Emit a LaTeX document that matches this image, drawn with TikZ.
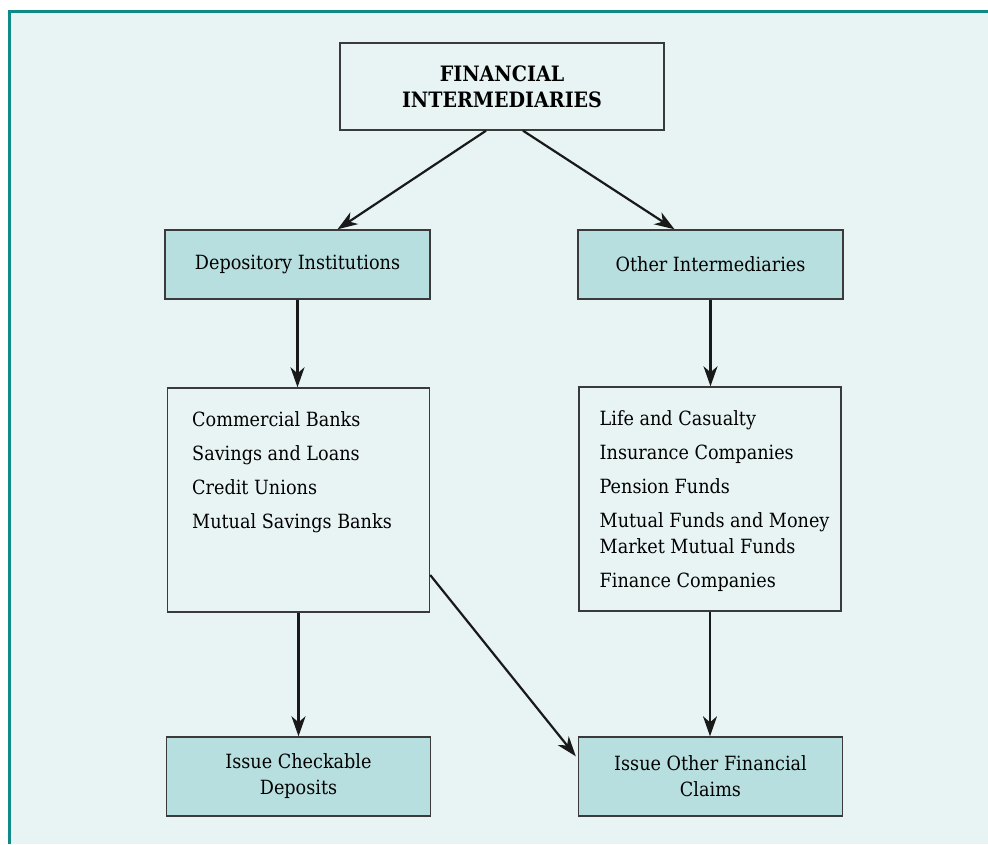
\documentclass[tikz,border=0pt]{standalone}
\usepackage{fontspec}
\setmainfont{DejaVu Serif Condensed}
\usetikzlibrary{positioning,arrows.meta,calc}
\definecolor{panelbg}{HTML}{E8F4F4}
\definecolor{boxteal}{HTML}{B8DFDF}
\definecolor{frameteal}{HTML}{108A88}
\definecolor{edgegray}{HTML}{3A3A3A}

\begin{document}
\begin{tikzpicture}[x=0.5pt, y=-0.5pt,
  box/.style={draw=edgegray, line width=0.7pt, inner sep=0pt, align=center,
    font=\fontsize{9.8}{13}\selectfont},
  headbox/.style={box, minimum width=162pt, minimum height=43.5pt,
    font=\fontsize{10.6}{13}\selectfont\bfseries},
  tealbox/.style={box, fill=boxteal, minimum width=132.5pt, minimum height=34.5pt},
  claimbox/.style={box, fill=boxteal, minimum width=132pt, minimum height=39.5pt},
  listbox/.style={box, minimum width=131pt, minimum height=112pt},
  listtext/.style={anchor=north west, inner sep=0pt, align=left,
    font=\fontsize{9.8}{13}\selectfont},
  arr/.style={-{Stealth[length=10pt,width=7pt,inset=3pt]}, line width=1.1pt, draw=black!90}]

% Panel
\useasboundingbox (0,0) rectangle (988,844);
\fill[panelbg] (10,12) rectangle (988,844);
\draw[frameteal, line width=1.4pt] (9.4,844) -- (9.4,11.6) -- (988,11.6);

% Boxes
\node[headbox] (fin) at (502,86.5) {FINANCIAL\\INTERMEDIARIES};
\node[tealbox] (dep) at (297.5,264.5) {Depository Institutions};
\node[tealbox] (oth) at (710.5,264.5) {Other Intermediaries};
\node[listbox] (banks) at (298.5,500) {};
\node[listbox] (funds) at (710,499) {};
\node[claimbox] (chk) at (298.5,776.5) {Issue Checkable\\Deposits};
\node[claimbox] (claims) at (710.5,776.5) {Issue Other Financial\\Claims};

% List texts
\node[listtext] (bankslist) at ($(banks.north west)+(25,24)$)
  {Commercial Banks\\[4pt] Savings and Loans\\[4pt] Credit Unions\\[4pt] Mutual Savings Banks};
\node[listtext] (fundslist) at ($(funds.north west)+(21,24)$)
  {Life and Casualty\\[4pt] Insurance Companies\\[4pt] Pension Funds\\[4pt]
   Mutual Funds and Money\\ Market Mutual Funds\\[4pt] Finance Companies};

% Arrows
\draw[arr] ($(fin.south)+(-16,0)$) -- ($(dep.north)+(40,0)$);
\draw[arr] ($(fin.south)+(21,0)$) -- ($(oth.north)+(-36,0)$);
\draw[arr] (dep.south) -- (dep.south |- banks.north);
\draw[arr] (oth.south) -- (oth.south |- funds.north);
\draw[arr] (banks.south) -- (banks.south |- chk.north);
\draw[arr] (funds.south) -- (funds.south |- claims.north);
\draw[arr] ($(banks.east)+(0,75)$) -- ($(claims.north west)+(-2,20)$);
\end{tikzpicture}
\end{document}
